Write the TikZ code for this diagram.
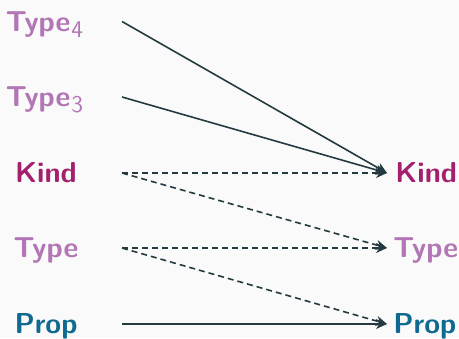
\documentclass[tikz,border=0pt]{standalone}
\usetikzlibrary{arrows.meta}
\definecolor{bg}{HTML}{FAFAFA}
\definecolor{typec}{HTML}{B275B5}
\definecolor{kindc}{HTML}{A2206E}
\definecolor{propc}{HTML}{0E6A90}
\definecolor{lc}{HTML}{243A40}
\newcommand{\lvl}[1]{\kern0.5pt\raisebox{-3pt}{\normalfont\sffamily\large #1}}
\begin{document}
\begin{tikzpicture}[x=0.5pt,y=-0.5pt,
  lab/.style={font=\sffamily\bfseries\Large, inner sep=0pt, text height=9.8pt, text depth=0pt},
  leftlab/.style={lab, anchor=center},
  rightlab/.style={lab, anchor=west},
  conn/.style={draw=lc, line width=0.8pt, -{Stealth[length=5.5pt,width=5pt]}},
  dsh/.style={conn, dash pattern=on 3pt off 2pt}]
\fill[bg] (0,0) rectangle (459,338);
\useasboundingbox (0,0) rectangle (459,338);
\coordinate (s) at (122,0);
\coordinate (e) at (387,0);
\node[leftlab, text=typec] (l4) at (44.5,21.5) {Type\lvl{4}};
\node[leftlab, text=typec] (l3) at (44.5,97) {Type\lvl{3}};
\node[leftlab, text=kindc] (lK) at (46,173) {Kind};
\node[leftlab, text=typec] (lT) at (46,248) {Type};
\node[leftlab, text=propc] (lP) at (46,324) {Prop};
\node[rightlab, text=kindc] (rK) at (395,173) {Kind};
\node[rightlab, text=typec] (rT) at (393,248) {Type};
\node[rightlab, text=propc] (rP) at (393,324) {Prop};
\draw[conn] (l4 -| s) -- (rK -| e);
\draw[conn] (l3 -| s) -- (rK -| e);
\draw[dsh] (lK -| s) -- (rK -| e);
\draw[dsh] (lK -| s) -- (rT -| e);
\draw[dsh] (lT -| s) -- (rT -| e);
\draw[dsh] (lT -| s) -- (rP -| e);
\draw[conn] (lP -| s) -- (rP -| e);
\end{tikzpicture}
\end{document}
